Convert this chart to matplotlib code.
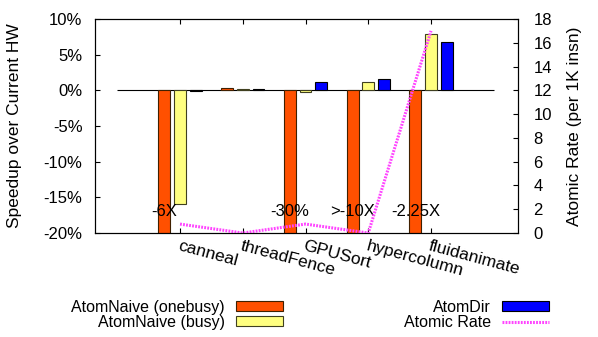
import matplotlib
matplotlib.use("Agg")
import matplotlib.pyplot as plt
import numpy as np

plt.rcParams['font.family'] = ['Liberation Sans', 'DejaVu Sans']
plt.rcParams['font.size'] = 12

# data
benchmarks = ["canneal", "threadFence", "GPUSort", "hypercolumn", "fluidanimate"]
onebusy = [-83.3, 0.3, -30.0, -90.0, -55.6]      # speedup %, most clipped at -20%
busy = [-15.9, 0.25, -0.2, 1.15, 7.9]
atomdir = [-0.05, 0.25, 1.15, 1.6, 6.8]
atomic_rate = [0.75, 0.0, 0.75, 0.0, 17.0]          # per 1K insn
off_labels = ["-6X", "", "-30%", ">-10X", "-2.25X"]
yticks = [-20, -15, -10, -5, 0, 5, 10]
y2ticks = list(range(0, 19, 2))

orange = "#ff5000"
yellow = "#ffff80"
blue = "#0000ff"
pink = "#ff44ff"

W, H = 598, 337
fig = plt.figure(figsize=(W / 100, H / 100), dpi=100)
L, R, T, B = 95, 518, 19, 233
ax = fig.add_axes([L / W, 1 - B / H, (R - L) / W, (B - T) / H])
ax2 = ax.twinx()

x = np.arange(len(benchmarks))
bw = 0.19
step = 0.25
ax.hlines(0, -1, len(benchmarks), color="black", lw=0.8, zorder=1)
b1 = ax.bar(x - step, onebusy, bw, color=orange, edgecolor="#402000", lw=0.8, zorder=2,
            label="AtomNaive (onebusy)")
b2 = ax.bar(x, busy, bw, color=yellow, edgecolor="#404020", lw=0.8, zorder=2,
            label="AtomNaive (busy)")
b3 = ax.bar(x + step, atomdir, bw, color=blue, edgecolor="black", lw=0.8, zorder=2,
            label="AtomDir")

for i, t in enumerate(off_labels):
    if t:
        ax.text(x[i] - step, -17.0, t, ha="center", va="center", fontsize=12, zorder=3)

ln, = ax2.plot(x, atomic_rate, color=pink, lw=2.2, ls=(0, (0.6, 0.4)), label="Atomic Rate")

ax.set_xlim(-1.355, 5.386)
ax.set_ylim(-20, 10)
ax2.set_ylim(0, 18)

ax.set_yticks(yticks)
ax.set_yticklabels([f"{v}%" for v in yticks])
ax2.set_yticks(y2ticks)

ax.set_xticks(x)
ax.set_xticklabels(benchmarks, rotation=-15, ha="left", va="top", rotation_mode="anchor",
                   fontsize=12.5)
ax.tick_params(axis="x", direction="in", length=3.5, top=True, pad=4, width=0.8)
ax.tick_params(axis="y", direction="in", length=3.5, pad=9, width=0.8)
ax2.tick_params(axis="y", direction="in", length=3.5, pad=11, width=0.8)
ax2.tick_params(axis="x", top=False, bottom=False)
for sp in list(ax.spines.values()) + list(ax2.spines.values()):
    sp.set_linewidth(0.8)

ax.set_ylabel("Speedup over Current HW", fontsize=12.5)
ax.yaxis.set_label_coords((22 - L) / (R - L), 0.5)
ax2.set_ylabel("Atomic Rate (per 1K insn)", fontsize=12.5)
ax2.yaxis.set_label_coords((567 - L) / (R - L), 0.5)

leg_kw = dict(frameon=False, markerfirst=False, borderpad=0, borderaxespad=0,
              handlelength=2.95, handleheight=0.52, handletextpad=0.7,
              labelspacing=0.0, fontsize=11.5, loc="center right")
fig.legend([b1, b2], [b1.get_label(), b2.get_label()],
           bbox_to_anchor=(283 / W, 1 - 314.7 / H), **leg_kw)
fig.legend([b3, ln], [b3.get_label(), ln.get_label()],
           bbox_to_anchor=(549 / W, 1 - 314.7 / H), **leg_kw)

fig.savefig("out.png", dpi=100)
